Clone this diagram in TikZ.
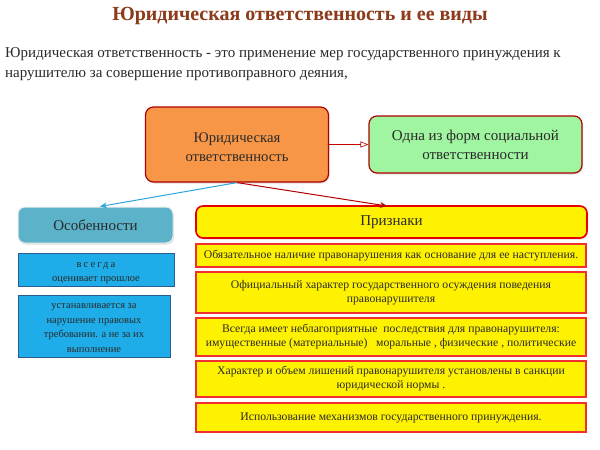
\documentclass[tikz,border=0pt]{standalone}
\usepackage{fontspec}
\setmainfont{Liberation Serif}
\usetikzlibrary{arrows.meta,shadows}
\definecolor{titlebrown}{HTML}{8B3A1A}
\definecolor{orangefill}{HTML}{F79646}
\definecolor{darkred}{HTML}{B00000}
\definecolor{greenfill}{HTML}{A0F5A0}
\definecolor{tealfill}{HTML}{5CB3C9}
\definecolor{bluefill}{HTML}{1EADE8}
\definecolor{blueborder}{HTML}{2A5C8E}
\definecolor{yellowborder}{HTML}{F03030}
\definecolor{linkblue}{HTML}{2BA6DD}
\definecolor{textdark}{HTML}{2A2A2A}
\tikzset{
  box/.style={draw, align=center, inner sep=0pt, text=textdark},
  mainbox/.style={box, rounded corners=8pt, line width=1.2pt, draw=darkred,
    drop shadow={shadow xshift=1pt, shadow yshift=-1.5pt, opacity=0.25}},
  ybox/.style={box, fill=yellow, draw=yellowborder, line width=1.2pt, font=\fontsize{11.7}{14}\selectfont},
  bbox/.style={box, fill=bluefill, draw=blueborder, line width=0.8pt, font=\fontsize{10.5}{14.5}\selectfont},
}
\begin{document}
\begin{tikzpicture}[x=1pt,y=-1pt]
\useasboundingbox (0,0) rectangle (600,450);
\fill[white] (0,0) rectangle (600,450);
% title
\node[font=\fontsize{20}{24}\selectfont\bfseries, text=titlebrown] (title) at (300,16) {Юридическая ответственность и ее виды};
% definition
\node[anchor=north west, align=left, font=\fontsize{15}{20.5}\selectfont, text=textdark, inner sep=0pt] (def) at (5,47)
 {Юридическая ответственность - это применение мер государственного принуждения к\\нарушителю за совершение противоправного деяния,};
% main boxes
\node[mainbox, fill=orangefill, minimum width=183pt, minimum height=75pt, font=\fontsize{14.7}{19.5}\selectfont] (ur) at (237,144.5) {\parbox{170pt}{\vspace*{5pt}\centering Юридическая\\ответственность}};
\node[mainbox, fill=greenfill, minimum width=213pt, minimum height=57pt, font=\fontsize{15}{19}\selectfont] (soc) at (475.5,144.5) {Одна из форм социальной\\ответственности};
\node[box, rounded corners=7pt, fill=tealfill, draw=white!85!gray, line width=1pt, minimum width=155pt, minimum height=36pt, font=\fontsize{15}{18}\selectfont,
  drop shadow={shadow xshift=1pt, shadow yshift=-1.5pt, opacity=0.25}] (osob) at (95.5,225) {Особенности};
\node[box, rounded corners=7pt, fill=yellow, draw=red!90!black, line width=1.6pt, minimum width=391pt, minimum height=32pt, font=\fontsize{15}{18}\selectfont,
  drop shadow={shadow xshift=1pt, shadow yshift=-1.5pt, opacity=0.25}] (priz) at (391.5,222) {Признаки};
% blue boxes
\node[bbox, minimum width=156pt, minimum height=33pt] (b1) at (96,269.5) {\parbox{150pt}{\vspace*{7pt}\centering {\addfontfeature{LetterSpace=20}всегда}\\оценивает прошлое}};
\node[bbox, minimum width=152pt, minimum height=62pt] (b2) at (94,326) {\parbox{148pt}{\vspace*{4pt}\centering устанавливается за\\нарушение правовых\\требовании. а не за их\\выполнение}};
% yellow boxes
\node[ybox, minimum width=390pt, minimum height=23pt] (y1) at (391,255.5) {Обязательное наличие правонарушения как основание для ее наступления.};
\node[ybox, minimum width=390pt, minimum height=41pt] (y2) at (391,292.5) {Официальный характер государственного осуждения поведения\\правонарушителя};
\node[ybox, minimum width=390pt, minimum height=38pt] (y3) at (391,337) {Всегда имеет неблагоприятные\ \ последствия для правонарушителя:\\имущественные (материальные)\ \ \ моральные , физические , политические};
\node[ybox, minimum width=390pt, minimum height=36pt] (y4) at (391,379) {Характер и объем лишений правонарушителя установлены в санкции\\юридической нормы .};
\node[ybox, minimum width=390pt, minimum height=29pt] (y5) at (391,417.5) {Использование механизмов государственного принуждения.};
% connectors
\coordinate (src) at (ur.south);
\coordinate (prizin) at (387,206);
\draw[-{Triangle[open,length=8pt,width=6pt]}, draw=red!75!black, line width=0.6pt] (ur.east) -- (soc.west);
\draw[-{Stealth[length=7pt,width=6pt]}, draw=linkblue, line width=1pt] (src) -- (osob.north -| 100,0);
\draw[-{Stealth[length=7pt,width=6pt]}, draw=red!70!black, line width=1pt] (src) -- (prizin);
\end{tikzpicture}
\end{document}
